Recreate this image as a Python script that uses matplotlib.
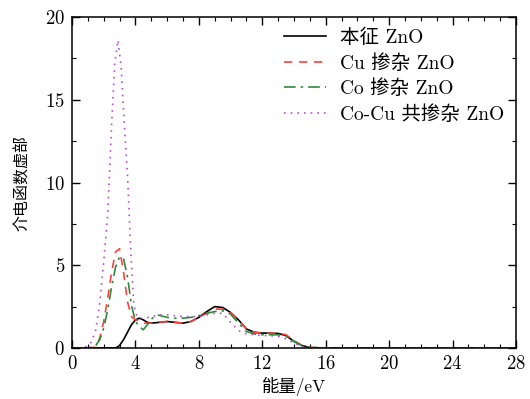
import matplotlib
matplotlib.use("Agg")
import matplotlib.pyplot as plt
from matplotlib.ticker import MultipleLocator

# Imaginary part of dielectric function vs photon energy
x_pure = [0, 2.5, 2.8, 3.0, 3.25, 3.5, 3.75, 4.0, 4.25, 4.5, 4.75, 5.0, 5.5, 6, 6.5, 7, 7.5,
          8, 8.5, 9, 9.5, 10, 10.5, 11, 11.5, 12, 12.5, 13, 13.5, 14, 14.5, 15, 16, 28]
y_pure = [0, 0, 0.02, 0.15, 0.5, 0.95, 1.4, 1.7, 1.8, 1.7, 1.55, 1.5, 1.55, 1.6, 1.55, 1.5, 1.6,
          1.85, 2.2, 2.5, 2.45, 2.15, 1.7, 1.15, 0.95, 0.9, 0.9, 0.88, 0.75, 0.4, 0.15, 0.03, 0, 0]

x_cu = [0, 1.0, 1.5, 1.75, 2.0, 2.25, 2.5, 2.75, 3.0, 3.25, 3.5, 3.75, 4.0, 4.3, 4.6, 5, 5.5,
        6, 6.5, 7, 7.5, 8, 8.5, 9, 9.5, 10, 10.5, 11, 11.5, 12, 12.5, 13, 13.5, 14, 14.5, 15, 16, 28]
y_cu = [0, 0, 0.05, 0.6, 1.6, 3.0, 4.6, 5.8, 6.0, 4.6, 2.8, 1.9, 1.7, 1.65, 1.5, 1.5, 1.55,
        1.6, 1.55, 1.5, 1.6, 1.85, 2.1, 2.35, 2.35, 2.15, 1.7, 1.15, 0.95, 0.9, 0.9, 0.9, 0.8,
        0.45, 0.15, 0.03, 0, 0]

x_co = [0, 1.0, 1.5, 1.75, 2.0, 2.25, 2.5, 2.75, 3.0, 3.25, 3.5, 3.75, 4.0, 4.25, 4.5, 4.75,
        5.0, 5.4, 6, 6.5, 7, 7.5, 8, 8.5, 9, 9.5, 10, 10.5, 11, 11.5, 12, 12.5, 13, 13.5, 14,
        14.5, 15, 16, 28]
y_co = [0, 0, 0.15, 0.5, 1.2, 2.3, 3.7, 4.9, 5.5, 5.4, 4.3, 2.6, 1.6, 1.3, 1.1, 1.4,
        1.75, 2.0, 1.85, 1.8, 1.8, 1.85, 1.95, 2.1, 2.2, 2.25, 2.05, 1.5, 1.0, 0.85, 0.8, 0.8,
        0.8, 0.7, 0.4, 0.15, 0.03, 0, 0]

x_cocu = [0, 0.5, 1.0, 1.25, 1.5, 1.75, 2.0, 2.25, 2.5, 2.7, 2.9, 3.1, 3.3, 3.5, 3.7, 3.9,
          4.1, 4.3, 4.6, 5, 5.5, 6, 6.5, 7, 7.5, 8, 8.5, 9, 9.5, 10, 10.5, 11, 11.5, 12, 12.5,
          13, 13.5, 14, 14.5, 15, 16, 28]
y_cocu = [0, 0, 0.1, 0.4, 1.1, 2.7, 5.2, 8.0, 13.5, 17.2, 18.6, 17.0, 13.5, 10.5, 6.0, 2.6,
          1.9, 1.8, 1.8, 1.9, 2.0, 2.0, 1.95, 1.9, 1.9, 1.9, 2.0, 2.1, 2.1, 1.55, 1.05, 0.85,
          0.8, 0.75, 0.75, 0.7, 0.55, 0.3, 0.1, 0.02, 0, 0]

labels = ["本征 ZnO", "Cu 掺杂 ZnO", "Co 掺杂 ZnO", "Co-Cu 共掺杂 ZnO"]

plt.rcParams["font.family"] = ["cmr10", "Noto Sans CJK SC"]
plt.rcParams["axes.formatter.use_mathtext"] = True
plt.rcParams["font.size"] = 13.5

fig = plt.figure(figsize=(5.3, 3.99), dpi=100)
ax = fig.add_axes([0.1358, 0.1278, 0.8378, 0.8296])

ax.plot(x_pure, y_pure, color="black", lw=1.2, ls="-", label=labels[0])
ax.plot(x_cu, y_cu, color="#ff4040", lw=1.2, ls=(0, (5, 4)), label=labels[1])
ax.plot(x_co, y_co, color="#2f8a3c", lw=1.2, ls=(0, (7, 3, 1.5, 3)), label=labels[2])
ax.plot(x_cocu, y_cocu, color="#b84fd0", lw=1.2, ls=(0, (1, 3)), label=labels[3])

ax.set_xlim(0, 28)
ax.set_ylim(0, 20)
ax.xaxis.set_major_locator(MultipleLocator(4))
ax.xaxis.set_minor_locator(MultipleLocator(1))
ax.yaxis.set_major_locator(MultipleLocator(5))
ax.yaxis.set_minor_locator(MultipleLocator(2.5))
ax.tick_params(which="both", direction="in", top=True, right=True)
ax.tick_params(which="major", length=6, width=1, pad=5)
ax.tick_params(which="minor", length=3, width=0.8)
for s in ax.spines.values():
    s.set_linewidth(1.1)

ax.set_xlabel("能量/eV", fontsize=12.5, labelpad=3)
ax.set_ylabel("介电函数虚部", fontsize=11.5, labelpad=11)

ax.legend(loc="upper right", frameon=False, handlelength=2.2, handletextpad=0.7,
          labelspacing=0.35, borderaxespad=0.2, fontsize=14)

fig.savefig("out.png", dpi=100)
